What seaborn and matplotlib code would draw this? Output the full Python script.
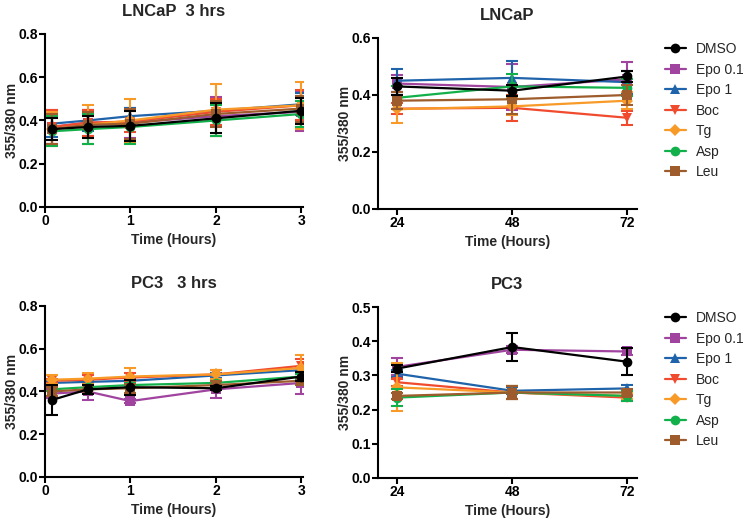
import matplotlib
matplotlib.use("Agg")
import matplotlib.pyplot as plt
import numpy as np
import pandas as pd
import seaborn as sns

TREATMENTS = ["DMSO", "Epo 0.1", "Epo 1", "Boc", "Tg", "Asp", "Leu"]
COLORS = ["#000000", "#A0449F", "#1F63AA", "#F04B2E", "#F89A28", "#12B04A", "#9E5B2C"]
MARKERS = ["o", "s", "^", "v", "D", "o", "s"]

HOURS = [0.08, 0.5, 1, 2, 3]
DAYS_H = [24, 48, 72]

# LNCaP, 3 hrs
lncap_3h_mean = {
    "DMSO":    [0.36, 0.37, 0.375, 0.41, 0.445],
    "Epo 0.1": [0.37, 0.39, 0.39, 0.42, 0.44],
    "Epo 1":   [0.385, 0.40, 0.42, 0.445, 0.475],
    "Boc":     [0.37, 0.39, 0.395, 0.44, 0.47],
    "Tg":      [0.36, 0.38, 0.40, 0.45, 0.47],
    "Asp":     [0.35, 0.36, 0.37, 0.40, 0.43],
    "Leu":     [0.36, 0.38, 0.385, 0.43, 0.455],
}
lncap_3h_err = {
    "DMSO":    [0.05, 0.05, 0.07, 0.07, 0.06],
    "Epo 0.1": [0.08, 0.06, 0.07, 0.09, 0.09],
    "Epo 1":   [0.06, 0.05, 0.04, 0.04, 0.05],
    "Boc":     [0.08, 0.06, 0.05, 0.06, 0.07],
    "Tg":      [0.08, 0.09, 0.10, 0.12, 0.11],
    "Asp":     [0.07, 0.07, 0.08, 0.07, 0.06],
    "Leu":     [0.07, 0.06, 0.07, 0.06, 0.06],
}

# LNCaP, 24-72 h
lncap_day_mean = {
    "DMSO":    [0.43, 0.415, 0.465],
    "Epo 0.1": [0.44, 0.428, 0.455],
    "Epo 1":   [0.45, 0.46, 0.445],
    "Boc":     [0.352, 0.355, 0.32],
    "Tg":      [0.35, 0.36, 0.38],
    "Asp":     [0.39, 0.43, 0.425],
    "Leu":     [0.38, 0.385, 0.40],
}
lncap_day_err = {
    "DMSO":    [0.03, 0.02, 0.02],
    "Epo 0.1": [0.03, 0.08, 0.06],
    "Epo 1":   [0.04, 0.06, 0.04],
    "Boc":     [0.02, 0.045, 0.025],
    "Tg":      [0.05, 0.03, 0.03],
    "Asp":     [0.04, 0.045, 0.03],
    "Leu":     [0.03, 0.05, 0.035],
}

# PC3, 3 hrs
pc3_3h_mean = {
    "DMSO":    [0.36, 0.41, 0.42, 0.415, 0.47],
    "Epo 0.1": [0.39, 0.40, 0.355, 0.41, 0.44],
    "Epo 1":   [0.44, 0.445, 0.45, 0.475, 0.50],
    "Boc":     [0.45, 0.455, 0.465, 0.48, 0.52],
    "Tg":      [0.455, 0.46, 0.47, 0.48, 0.51],
    "Asp":     [0.41, 0.42, 0.43, 0.44, 0.47],
    "Leu":     [0.40, 0.41, 0.415, 0.43, 0.45],
}
pc3_3h_err = {
    "DMSO":    [0.07, 0.02, 0.035, 0.01, 0.02],
    "Epo 0.1": [0.02, 0.04, 0.01, 0.04, 0.05],
    "Epo 1":   [0.01, 0.01, 0.01, 0.01, 0.01],
    "Boc":     [0.01, 0.02, 0.02, 0.02, 0.03],
    "Tg":      [0.02, 0.025, 0.04, 0.02, 0.06],
    "Asp":     [0.01, 0.01, 0.01, 0.01, 0.01],
    "Leu":     [0.02, 0.02, 0.02, 0.02, 0.02],
}

# PC3, 24-72 h
pc3_day_mean = {
    "DMSO":    [0.32, 0.383, 0.34],
    "Epo 0.1": [0.325, 0.375, 0.37],
    "Epo 1":   [0.305, 0.255, 0.262],
    "Boc":     [0.28, 0.25, 0.235],
    "Tg":      [0.265, 0.25, 0.24],
    "Asp":     [0.235, 0.25, 0.24],
    "Leu":     [0.24, 0.25, 0.25],
}
pc3_day_err = {
    "DMSO":    [0.01, 0.04, 0.04],
    "Epo 0.1": [0.025, 0.01, 0.01],
    "Epo 1":   [0.01, 0.01, 0.01],
    "Boc":     [0.01, 0.02, 0.01],
    "Tg":      [0.07, 0.02, 0.01],
    "Asp":     [0.025, 0.02, 0.015],
    "Leu":     [0.01, 0.02, 0.01],
}


def to_long(x, means, errs):
    rows = []
    for name in TREATMENTS:
        for xi, m, e in zip(x, means[name], errs[name]):
            rows.append({"time": xi, "ratio": m, "err": e, "treatment": name})
    return pd.DataFrame(rows)


def draw_panel(fig, ax, df, legend_top=None):
    palette = dict(zip(TREATMENTS, COLORS))
    markers = dict(zip(TREATMENTS, MARKERS))
    # draw DMSO last so it sits on top
    order = TREATMENTS[1:] + TREATMENTS[:1]
    for z, name in enumerate(order):
        sub = df[df["treatment"] == name]
        ax.errorbar(sub["time"], sub["ratio"], yerr=sub["err"], fmt="none",
                    ecolor=palette[name], elinewidth=1.5, capsize=4,
                    capthick=1.5, zorder=2 + z)
        sns.lineplot(data=sub, x="time", y="ratio", color=palette[name],
                     marker=markers[name], markersize=7 if markers[name] != "D" else 6,
                     markeredgewidth=0, linewidth=1.6, ax=ax, zorder=3 + z,
                     label=name, legend=False)
    if legend_top is not None:
        handles, labels = ax.get_legend_handles_labels()
        lookup = dict(zip(labels, handles))
        ax.legend([lookup[n] for n in TREATMENTS], TREATMENTS,
                  loc="upper left", bbox_to_anchor=(665 / 745, 1 - legend_top / 526),
                  bbox_transform=fig.transFigure, frameon=False,
                  fontsize=10, handlelength=1.5, labelspacing=0.47,
                  handletextpad=0.7, borderpad=0, borderaxespad=0)


sns.set_theme(style="ticks")
plt.rcParams["font.family"] = ["Liberation Sans", "DejaVu Sans"]

fig = plt.figure(figsize=(7.45, 5.26), dpi=100)
ax_tl = fig.add_axes([0.0604, 0.6065, 0.3463, 0.3289])
ax_tr = fig.add_axes([0.5074, 0.6027, 0.3476, 0.3251])
ax_bl = fig.add_axes([0.0604, 0.0932, 0.3463, 0.3251])
ax_br = fig.add_axes([0.5074, 0.0913, 0.3476, 0.3250])

draw_panel(fig, ax_tl, to_long(HOURS, lncap_3h_mean, lncap_3h_err))
draw_panel(fig, ax_tr, to_long(DAYS_H, lncap_day_mean, lncap_day_err), legend_top=42)
draw_panel(fig, ax_bl, to_long(HOURS, pc3_3h_mean, pc3_3h_err))
draw_panel(fig, ax_br, to_long(DAYS_H, pc3_day_mean, pc3_day_err), legend_top=311)

panels = [
    (ax_tl, "LNCaP  3 hrs", (0, 3.02), [0, 1, 2, 3], (0, 0.8), np.arange(0, 0.81, 0.2)),
    (ax_tr, "LNCaP", (20, 74), [24, 48, 72], (0, 0.6), np.arange(0, 0.61, 0.2)),
    (ax_bl, "PC3   3 hrs", (0, 3.02), [0, 1, 2, 3], (0, 0.8), np.arange(0, 0.81, 0.2)),
    (ax_br, "PC3", (20, 74), [24, 48, 72], (0, 0.5), np.arange(0, 0.51, 0.1)),
]
for ax, title, xlim, xt, ylim, yt in panels:
    ax.set_xlim(*xlim)
    ax.set_ylim(*ylim)
    ax.set_xticks(xt)
    ax.set_xticklabels([str(t) for t in xt], fontweight="bold", fontsize=10)
    ax.set_yticks(yt)
    ax.set_yticklabels([f"{v:.1f}" for v in yt], fontweight="bold", fontsize=10)
    ax.set_title(title, fontweight="bold", fontsize=12, pad=13)
    ax.set_xlabel("Time (Hours)", fontweight="bold", fontsize=10)
    ax.set_ylabel("355/380 nm", fontweight="bold", fontsize=10)
    ax.yaxis.set_label_coords(-0.10, 0.5)
    ax.tick_params(direction="out", length=4, width=1.5, pad=1, colors="black")
    for side in ["left", "bottom"]:
        ax.spines[side].set_linewidth(1.5)
        ax.spines[side].set_color("black")
    sns.despine(ax=ax)

fig.savefig("out.png", dpi=100)
